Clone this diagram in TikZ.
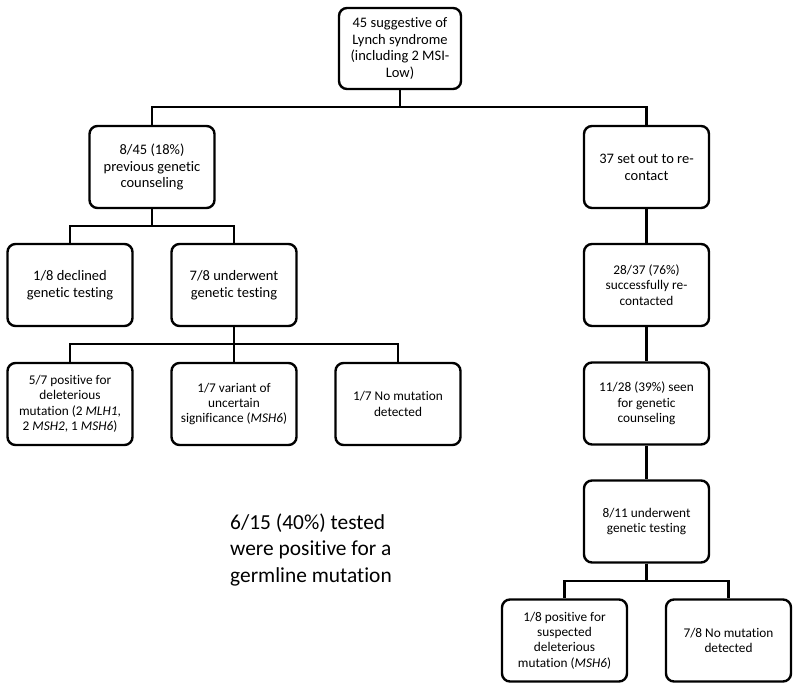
\documentclass[tikz,border=0pt]{standalone}
\usepackage{fontspec}
\setmainfont{Carlito}[Ligatures=CommonOff]
\usepackage{tikz}
\usetikzlibrary{shapes,arrows}
\tikzstyle{blockBig} = [rectangle, draw, line width=2.4pt, rounded corners=8pt, minimum width=125pt, minimum height=82pt, align=center, inner sep=2pt, font=\fontsize{14.5}{16.7}\selectfont]
\tikzstyle{blockSm} = [blockBig, font=\fontsize{13.3}{15.4}\selectfont]
\tikzstyle{line} = [draw, line width=2.3pt]

\begin{document}
\begin{tikzpicture}[x=1pt, y=-1pt, node distance=118pt]
    \useasboundingbox (0,0) rectangle (800,690);

    % nodes
    \node [blockBig, minimum width=122pt, minimum height=81pt] (root) at (400,48.5) {45 suggestive of\\Lynch syndrome\\(including 2 MSI-\\Low)};
    \node [blockBig, below of=root, node distance=118.5pt, xshift=-248pt] (prev) {8/45 (18\%)\\previous genetic\\counseling};
    \node [blockBig, below of=root, node distance=118.5pt, xshift=246.5pt] (recontact) {37 set out to re-\\contact};

    % left branch
    \node [blockBig, below of=prev, xshift=-82pt] (declined) {1/8 declined\\genetic testing};
    \node [blockBig, below of=prev, xshift=82pt] (underwent) {7/8 underwent\\genetic testing};
    \node [blockSm, below of=declined, node distance=119pt] (positive) {5/7 positive for\\deleterious\\mutation (2 \textit{MLH1},\\2 \textit{MSH2}, 1 \textit{MSH6})};
    \node [blockSm, below of=underwent, node distance=119pt] (variant) {1/7 variant of\\uncertain\\significance (\textit{MSH6})};
    \node [blockSm, right of=variant, node distance=164pt] (nomutL) {1/7 No mutation\\detected};

    % right branch
    \node [blockSm, below of=recontact] (success) {28/37 (76\%)\\successfully re-\\contacted};
    \node [blockSm, below of=success, node distance=118.5pt] (seen) {11/28 (39\%) seen\\for genetic\\counseling};
    \node [blockSm, below of=seen] (tested) {8/11 underwent\\genetic testing};
    \node [blockSm, below of=tested, node distance=119pt, xshift=-82pt] (positiveR) {1/8 positive for\\suspected\\deleterious\\mutation (\textit{MSH6})};
    \node [blockSm, below of=tested, node distance=119pt, xshift=82pt] (nomutR) {7/8 No mutation\\detected};

    % summary
    \node [anchor=west, align=left, inner sep=0pt, font=\fontsize{21.4}{26.5}\selectfont] (summary) at (230,550) {6/15 (40\%) tested\\were positive for a\\germline mutation};

    % edges
    \path [line] (root.south) -- ++(0,17) -| (prev.north);
    \path [line] (root.south) -- ++(0,17) -| (recontact.north);
    \path [line] (prev.south) -- ++(0,17) -| (declined.north);
    \path [line] (prev.south) -- ++(0,17) -| (underwent.north);
    \path [line] (underwent.south) -- ++(0,17) -| (positive.north);
    \path [line] (underwent.south) -- (variant.north);
    \path [line] (underwent.south) -- ++(0,17) -| (nomutL.north);
    \path [line] (recontact) -- (success);
    \path [line] (success) -- (seen);
    \path [line] (seen) -- (tested);
    \path [line] (tested.south) -- ++(0,17) -| (positiveR.north);
    \path [line] (tested.south) -- ++(0,17) -| (nomutR.north);

\end{tikzpicture}
\end{document}
